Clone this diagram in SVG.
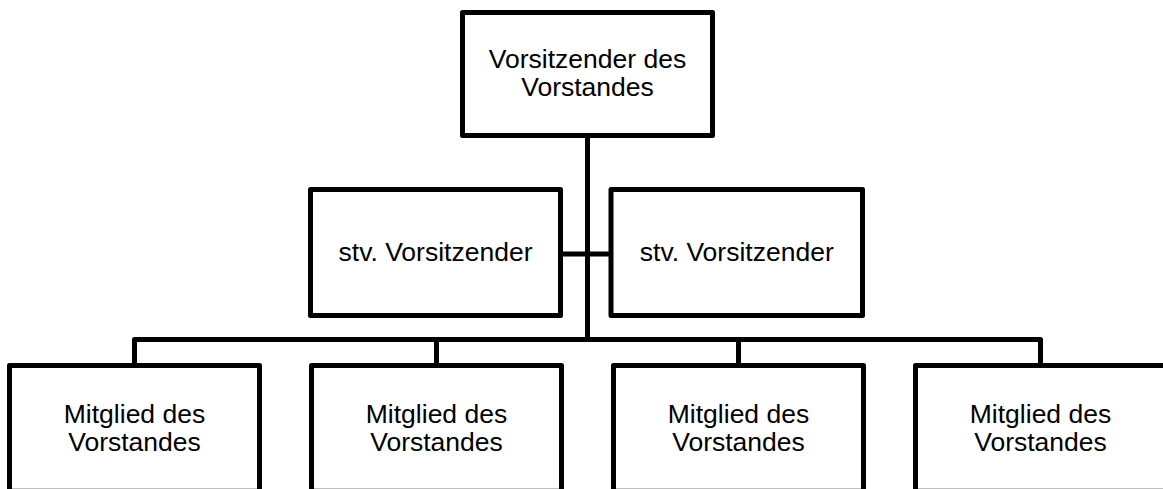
<svg xmlns="http://www.w3.org/2000/svg" width="1163" height="489" viewBox="0 0 1163 489">
<style>
.box{fill:#fff;stroke:#000;stroke-width:5;stroke-linejoin:round}
.con{fill:none;stroke:#000;stroke-width:5;stroke-linejoin:round}
.t{font-family:"Liberation Sans",Arial,sans-serif;font-size:26.5px;fill:#000;text-anchor:middle}
</style>
<rect width="1163" height="489" fill="#fff"/>
<g id="connectors">
<path class="con" d="M587.5,135.5 V339.5"/>
<path class="con" d="M560.5,254 H611"/>
<path class="con" d="M134.5,365.5 V339.5 H1040.5 V365.5"/>
<path class="con" d="M436.5,339.5 V365.5"/>
<path class="con" d="M738.5,339.5 V365.5"/>
</g>
<g id="n-chair">
<rect class="box" x="462.5" y="12.5" width="250" height="123"/>
<text class="t" x="587.5" y="67.5">Vorsitzender des</text>
<text class="t" x="587.5" y="95.5">Vorstandes</text>
</g>
<g id="n-deputy1">
<rect class="box" x="310.5" y="189.5" width="250" height="126"/>
<text class="t" x="435.5" y="260.5">stv. Vorsitzender</text>
</g>
<g id="n-deputy2">
<rect class="box" x="611" y="189.5" width="251.5" height="126"/>
<text class="t" x="736.75" y="260.5">stv. Vorsitzender</text>
</g>
<g id="n-member1">
<rect class="box" x="9.5" y="365.5" width="250" height="125.7"/>
<text class="t" x="134.5" y="422.5">Mitglied des</text>
<text class="t" x="134.5" y="450.5">Vorstandes</text>
</g>
<g id="n-member2">
<rect class="box" x="311.5" y="365.5" width="250" height="125.7"/>
<text class="t" x="436.5" y="422.5">Mitglied des</text>
<text class="t" x="436.5" y="450.5">Vorstandes</text>
</g>
<g id="n-member3">
<rect class="box" x="613.5" y="365.5" width="250" height="125.7"/>
<text class="t" x="738.5" y="422.5">Mitglied des</text>
<text class="t" x="738.5" y="450.5">Vorstandes</text>
</g>
<g id="n-member4">
<rect class="box" x="915.5" y="365.5" width="250" height="125.7"/>
<text class="t" x="1040.5" y="422.5">Mitglied des</text>
<text class="t" x="1040.5" y="450.5">Vorstandes</text>
</g>
</svg>
